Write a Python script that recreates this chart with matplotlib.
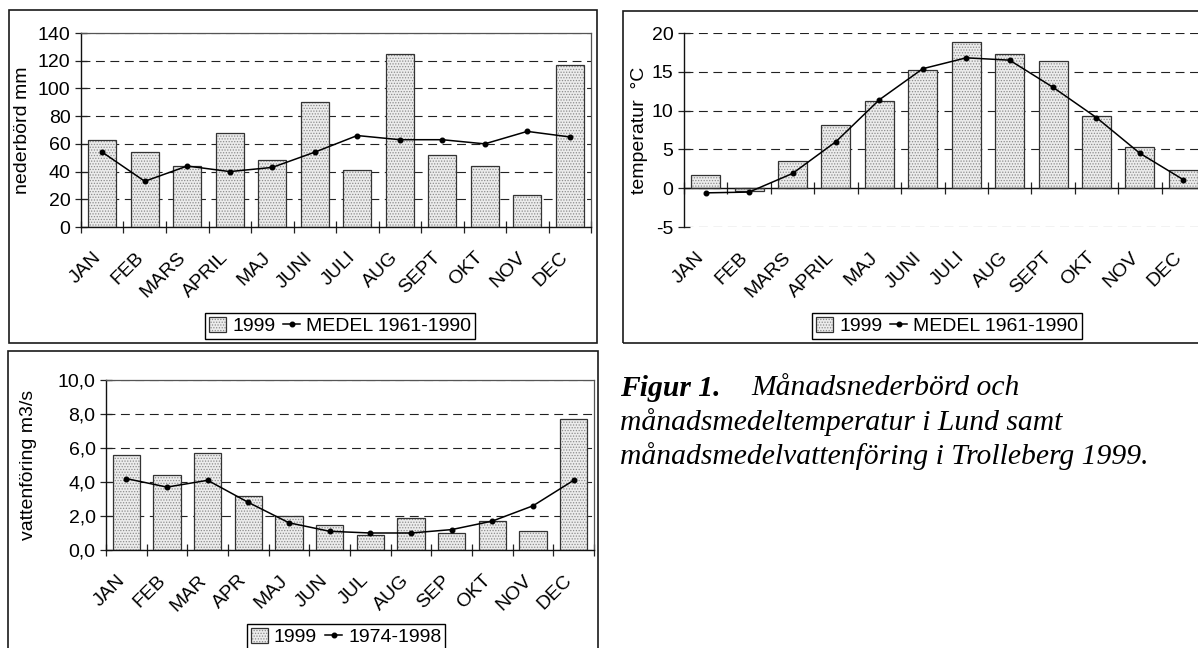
import numpy as np
import matplotlib
matplotlib.use('Agg')
import matplotlib.pyplot as plt
from matplotlib.patches import Rectangle
from matplotlib.transforms import ScaledTranslation

plt.rcParams['font.family'] = ['Liberation Sans', 'DejaVu Sans']
plt.rcParams['hatch.color'] = '#8c8c8c'
plt.rcParams['hatch.linewidth'] = 0.6

# data
months_long = ['JAN', 'FEB', 'MARS', 'APRIL', 'MAJ', 'JUNI', 'JULI', 'AUG', 'SEPT', 'OKT', 'NOV', 'DEC']
months_short = ['JAN', 'FEB', 'MAR', 'APR', 'MAJ', 'JUN', 'JUL', 'AUG', 'SEP', 'OKT', 'NOV', 'DEC']

nederbord_1999 = [63, 54, 44, 68, 48, 90, 41, 125, 52, 44, 23, 117]
nederbord_medel = [54, 33, 44, 40, 43, 54, 66, 63, 63, 60, 69, 65]

temp_1999 = [1.7, -0.4, 3.5, 8.2, 11.2, 15.2, 18.9, 17.3, 16.4, 9.3, 5.3, 2.3]
temp_medel = [-0.6, -0.5, 1.9, 6.0, 11.4, 15.4, 16.8, 16.5, 13.0, 9.1, 4.5, 1.1]

flode_1999 = [5.6, 4.4, 5.7, 3.2, 2.0, 1.5, 0.9, 1.9, 1.0, 1.7, 1.1, 7.7]
flode_medel = [4.2, 3.7, 4.1, 2.8, 1.6, 1.1, 1.0, 1.0, 1.2, 1.7, 2.6, 4.1]

W, H = 1198, 648
FS = 14
fig = plt.figure(figsize=(W / 100, H / 100), dpi=100)


def px(x0, y0, x1, y1):
    # pixel box (top-left origin) -> figure fraction rect
    return [x0 / W, 1 - y1 / H, (x1 - x0) / W, (y1 - y0) / H]


def panel_box(x0, y0, x1, y1):
    r = Rectangle((x0 / W, 1 - y1 / H), (x1 - x0) / W, (y1 - y0) / H,
                  transform=fig.transFigure, fill=False, edgecolor='#1a1a1a', lw=1.2)
    fig.add_artist(r)


def draw(ax, cats, v_bar, v_line, ymin, ymax, step, ylabel, lab_x, fmt, zero_axis=False):
    n = len(cats)
    x = np.arange(n)
    ax.set_axisbelow(True)
    fill = ax.bar(x, v_bar, width=0.667, color='#ececec', hatch='......', linewidth=0, zorder=2)
    edge = ax.bar(x, v_bar, width=0.667, fill=False, edgecolor='#333333', linewidth=0.9, zorder=3)
    ln, = ax.plot(x, v_line, color='black', lw=1.1, marker='o', ms=3.3, zorder=4)

    ax.set_xlim(-0.5, n - 0.5)
    ax.set_ylim(ymin, ymax)
    ticks = np.arange(ymin, ymax + step / 2, step)
    ax.set_yticks(ticks)
    ax.set_yticklabels([fmt(t) for t in ticks])
    ax.grid(axis='y', color='#222222', lw=0.8, linestyle=(0, (8, 5)))

    ax.set_xticks(np.arange(-0.5, n, 1))
    ax.set_xticklabels([])
    ax.tick_params(axis='x', direction='inout', length=8, width=0.9, color='#222222')
    ax.tick_params(axis='y', direction='inout', length=9, width=0.9, color='#222222',
                   labelsize=FS, pad=3)

    for s in ['left', 'bottom']:
        ax.spines[s].set_color('#111111')
        ax.spines[s].set_linewidth(1.0)
    if zero_axis:
        ax.spines['bottom'].set_position(('data', 0))
        ax.spines['top'].set_visible(False)
        ax.spines['right'].set_visible(False)
    else:
        for s in ['top', 'right']:
            ax.spines[s].set_color('#555555')
            ax.spines[s].set_linewidth(0.9)

    # category labels sit at the bottom edge of the plot area
    off = ScaledTranslation(-3 / 72, -20 / 72, fig.dpi_scale_trans)
    for i, c in enumerate(cats):
        ax.text(i, 0, c, transform=ax.get_xaxis_transform() + off, rotation=45,
                rotation_mode='anchor', ha='right', va='center', fontsize=FS)

    ax.set_ylabel(ylabel, fontsize=FS)
    ax.yaxis.set_label_coords(lab_x, 0.5)
    return fill, edge, ln


def legend(fill, edge, ln, labels, cx, cy):
    leg = fig.legend(handles=[(fill[0], edge[0]), ln], labels=labels, loc='center',
                     bbox_to_anchor=(cx / W, 1 - cy / H), ncol=2, frameon=True, fancybox=False,
                     edgecolor='black', framealpha=1, borderpad=0.2, handlelength=0.9,
                     handleheight=0.8, handletextpad=0.3, columnspacing=0.4, fontsize=FS,
                     borderaxespad=0)
    leg.get_frame().set_linewidth(1.0)


def fmt_int(v):
    return '%d' % v


def fmt_comma(v):
    return ('%.1f' % v).replace('.', ',')


# panel 1: precipitation
panel_box(9, 10, 597, 343)
ax1 = fig.add_axes(px(81, 33, 591, 227))
f1, e1, l1 = draw(ax1, months_long, nederbord_1999, nederbord_medel, 0, 140, 20,
                  'nederbörd mm', -0.098, fmt_int)
legend(f1, e1, l1, ['1999', 'MEDEL 1961-1990'], 340, 326)

# panel 2: temperature
panel_box(623, 11, 1215, 343)
ax2 = fig.add_axes(px(684, 33, 1205, 227))
f2, e2, l2 = draw(ax2, months_long, temp_1999, temp_medel, -5, 20, 5,
                  'temperatur  °C', -0.069, fmt_int, zero_axis=True)
legend(f2, e2, l2, ['1999', 'MEDEL 1961-1990'], 947, 326)

# panel 3: discharge
panel_box(8, 351, 598, 660)
ax3 = fig.add_axes(px(106, 380, 594, 550))
f3, e3, l3 = draw(ax3, months_short, flode_1999, flode_medel, 0, 10, 2,
                  'vattenföring m3/s', -0.141, fmt_comma)
legend(f3, e3, l3, ['1999', '1974-1998'], 346, 637)

# caption
serif = ['Liberation Serif', 'DejaVu Serif']
CS = 21.3
fig.text(620 / W, 1 - 388 / H, 'Figur 1.', family=serif, fontsize=CS, fontweight='bold',
         fontstyle='italic', va='center')
fig.text(751 / W, 1 - 388 / H, 'Månadsnederbörd och', family=serif, fontsize=CS,
         fontstyle='italic', va='center')
fig.text(620 / W, 1 - 422 / H, 'månadsmedeltemperatur i Lund samt', family=serif, fontsize=CS,
         fontstyle='italic', va='center')
fig.text(620 / W, 1 - 456 / H, 'månadsmedelvattenföring i Trolleberg 1999.', family=serif,
         fontsize=CS, fontstyle='italic', va='center')

fig.savefig('out.png', dpi=100)
